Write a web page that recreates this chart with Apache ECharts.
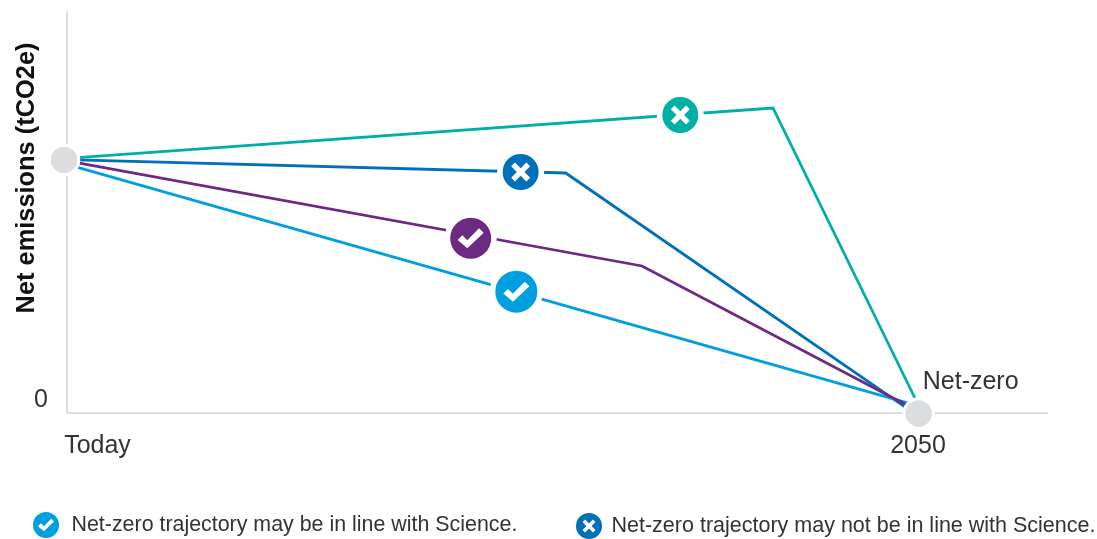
<!DOCTYPE html>
<html><head><meta charset="utf-8">
<style>html,body{margin:0;padding:0;background:#fff}#c{width:1097px;height:539px}</style>
<script src="https://cdn.jsdelivr.net/npm/echarts@6/dist/echarts.min.js"></script>
</head><body><div id="c"></div>
<script>
// x: 0 = Today, 100 = 2050; y: relative net emissions
const tealLine   = [[0,63.5],[82.96,76.06],[100.5,0]];
const blueLine   = [[0,63.2],[58.6,59.85],[100,-0.7]];
const purpleLine = [[0,62.9],[67.57,36.66],[100,0.5]];
const skyLine    = [[0,62],[100,1.8]];
const tealMark   = [[72.07,74.3]];
const blueMark   = [[53.31,60.1]];
const purpleMark = [[47.44,43.6]];
const skyMark    = [[52.8,30.25]];
const endPoints  = [[-0.35,63.1],[100.08,-0.1]];
const inLine  = 'Net-zero trajectory may be in line with Science.';
const notInLine = 'Net-zero trajectory may not be in line with Science.';
const xTicks = [0,100];
const yTicks = [0];
const xLabels = {0:'Today',100:'2050'};

const TEAL='#00AFA5', BLUE='#0070BA', PURPLE='#6D2A83', SKY='#009FDF', GREY='#DCDDDE', TXT='#333333';
const FONT='"Liberation Sans",Arial,sans-serif';
const CHECK='path://M0 46L18 28L37 47L82 0L100 18L37 78Z';
const CROSS='path://M20 0L50 30L80 0L100 20L70 50L100 80L80 100L50 70L20 100L0 80L30 50L0 20Z';
const RING='M50 0A50 50 0 1 1 50 100A50 50 0 1 1 50 0Z';
const ICON_CHECK='path://'+RING+'M19 55L42 74L81 37L70 26L42 55L30 43Z';
const ICON_CROSS='path://'+RING+'M35 25L25 35L40 50L25 65L35 75L50 60L65 75L75 65L60 50L75 35L65 25L50 40Z';

const line=(name,data,color,z)=>({name,type:'line',data,symbol:'none',clip:false,z,
  lineStyle:{color,width:2.8,cap:'butt',join:'miter'},itemStyle:{color},silent:true});
const disc=(name,data,color,size)=>({name,type:'scatter',data,symbol:'circle',symbolSize:size,z:6,silent:true,
  itemStyle:{color,borderColor:'#fff',borderWidth:5.5,opacity:1}});
const chart=echarts.init(document.getElementById('c'),null,{renderer:'canvas'});
chart.setOption({
  animation:false,backgroundColor:'#fff',
  grid:{left:67,right:50,top:12,bottom:126,containLabel:false,outerBoundsMode:'none'},
  xAxis:{type:'value',min:0,max:115.16,splitLine:{show:false},axisTick:{show:false},
    axisLine:{show:true,lineStyle:{color:GREY,width:2}},
    axisLabel:{show:true,customValues:xTicks,showMinLabel:true,showMaxLabel:true,hideOverlap:false,margin:21,
      fontFamily:FONT,fontSize:25,color:TXT,
      formatter:v=>v===0?'{t|'+xLabels[v]+'}':xLabels[v],
      rich:{t:{padding:[0,0,0,61],fontFamily:FONT,fontSize:25,color:TXT}}}},
  yAxis:{type:'value',min:0,max:100,splitLine:{show:false},axisTick:{show:false},
    axisLine:{show:true,lineStyle:{color:GREY,width:2}},
    name:'Net emissions (tCO2e)',nameLocation:'middle',nameGap:28,nameRotate:90,nameMoveOverlap:false,
    nameTextStyle:{fontFamily:FONT,fontWeight:'bold',fontSize:25.4,color:'#111',padding:[0,0,0,69]},
    axisLabel:{customValues:yTicks,margin:19,fontFamily:FONT,fontSize:25,color:TXT,verticalAlign:'bottom',
      formatter:v=>String(v)}},
  legend:[
    {data:[{name:inLine,icon:ICON_CHECK,itemStyle:{color:SKY}}],left:33,top:512,itemWidth:27,itemHeight:26,selectedMode:false,
      padding:0,textStyle:{fontFamily:FONT,fontSize:21.4,color:TXT,padding:[5,0,0,7]}},
    {data:[{name:notInLine,icon:ICON_CROSS,itemStyle:{color:BLUE}}],left:576,top:513,itemWidth:27,itemHeight:26,selectedMode:false,
      padding:0,textStyle:{fontFamily:FONT,fontSize:21.5,color:TXT,padding:[1,0,0,4]}}
  ],
  series:[
    line('Teal trajectory',tealLine,TEAL,2),
    line('Blue trajectory',blueLine,BLUE,2),
    line('Sky trajectory',skyLine,SKY,3),
    line('Purple trajectory',purpleLine,PURPLE,4),
    {name:'Endpoints',type:'scatter',data:endPoints.map((p,i)=>i===1?{value:p,label:{show:true,formatter:'Net-zero',position:'top',offset:[52,2],
        fontFamily:FONT,fontSize:25,color:TXT}}:{value:p}),
      symbol:'circle',symbolSize:29.5,z:5,silent:true,clip:false,
      itemStyle:{color:GREY,borderColor:'#fff',borderWidth:3,opacity:1}},
    disc('Teal marker',tealMark,TEAL,41.5),
    disc('Blue marker',blueMark,BLUE,41.5),
    disc('Purple marker',purpleMark,PURPLE,46.5),
    disc('Sky marker',skyMark,SKY,47.5),
    {name:inLine,type:'scatter',data:purpleMark.concat(skyMark),symbol:CHECK,symbolSize:[26,20],z:7,silent:true,
      itemStyle:{color:'#fff',opacity:1}},
    {name:notInLine,type:'scatter',data:tealMark.concat(blueMark),symbol:CROSS,symbolSize:[19,19],z:7,silent:true,
      itemStyle:{color:'#fff',opacity:1}}
  ]
});
</script></body></html>
